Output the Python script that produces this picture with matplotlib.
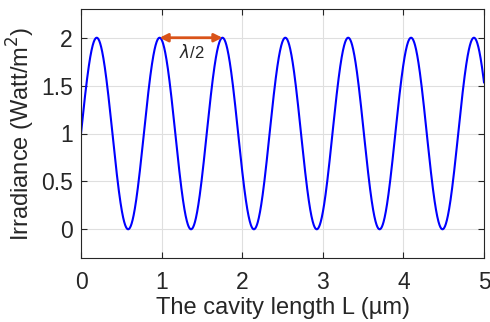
import numpy as np
import matplotlib
matplotlib.use("Agg")
import matplotlib.pyplot as plt

plt.rcParams['font.family'] = ['Liberation Sans', 'DejaVu Sans']

# Data parameters
wavelength = 1.56          # µm (peak spacing lambda/2 ~ 0.78 µm)
I0 = 1.0                   # mean irradiance (W/m^2)
L_range = [0, 5]
xticks = [0, 1, 2, 3, 4, 5]
yticks = [0, 0.5, 1, 1.5, 2]
ytick_labels = ['0', '0.5', '1', '1.5', '2']
arrow_L = [0.975, 1.755]
arrow_I = 2.0

L = np.linspace(L_range[0], L_range[1], 2000)
I = I0 * (1 + np.sin(4 * np.pi * L / wavelength))

fig = plt.figure(figsize=(4.9, 3.22), dpi=100)
ax = fig.add_axes([81/490, 64/322, 403/490, 249/322])
ax.plot(L, I, color='#0000FF', lw=1.5)
ax.set_xlim(0, 5)
ax.set_ylim(-0.3, 2.3)
ax.set_xticks(xticks)
ax.set_yticks(yticks)
ax.set_yticklabels(ytick_labels)
ax.grid(True, color='#DFDFDF', lw=0.8)
ax.set_axisbelow(True)
for s in ax.spines.values():
    s.set_color('#262626')
    s.set_linewidth(0.8)
ax.tick_params(direction='in', top=True, right=True, length=4, width=0.8,
               colors='#262626', labelsize=16.5, labelcolor='#262626')
ax.tick_params(axis='x', pad=9.5)
ax.tick_params(axis='y', pad=6)
ax.set_xlabel('The cavity length L (µm)', fontsize=17, color='#262626', labelpad=2)
ax.set_ylabel('Irradiance (Watt/m$^2$)', fontsize=17, color='#262626', labelpad=3)

ax.annotate('', xy=(arrow_L[0], arrow_I), xytext=(arrow_L[1], arrow_I),
            arrowprops=dict(arrowstyle='<|-|>', color='#D95319', lw=2,
                            mutation_scale=12, shrinkA=0, shrinkB=0))
ax.text(1.37, 1.95, r'$\lambda$/2', fontsize=12, color='#262626',
        ha='center', va='top', math_fontfamily='dejavusans')

fig.savefig('out.png', dpi=100)
